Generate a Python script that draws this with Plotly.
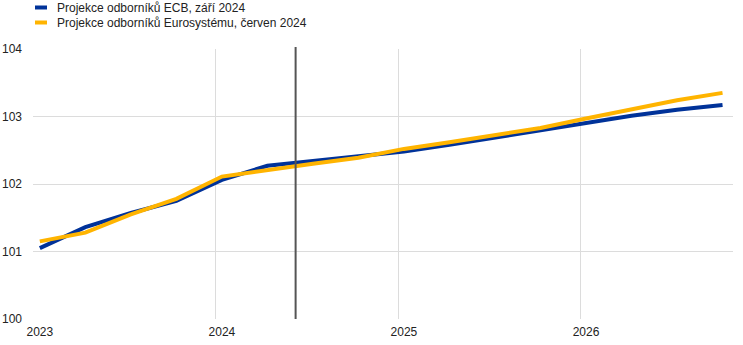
import plotly.graph_objects as go

# Quarterly index: 2023Q1 .. 2026Q4
quarters = ["2023Q1", "2023Q2", "2023Q3", "2023Q4",
            "2024Q1", "2024Q2", "2024Q3", "2024Q4",
            "2025Q1", "2025Q2", "2025Q3", "2025Q4",
            "2026Q1", "2026Q2", "2026Q3", "2026Q4"]
year_labels = ["2023", "2024", "2025", "2026"]

ecb_sep_2024 = [101.05, 101.36, 101.57, 101.75, 102.06, 102.27, 102.34, 102.41,
                102.48, 102.58, 102.69, 102.80, 102.90, 103.01, 103.10, 103.17]
eurosystem_jun_2024 = [101.15, 101.28, 101.55, 101.78, 102.11, 102.21, 102.30, 102.39,
                       102.52, 102.62, 102.73, 102.83, 102.97, 103.11, 103.24, 103.35]

series_names = ["Projekce odborníků ECB, září 2024",
                "Projekce odborníků Eurosystému, červen 2024"]
series_colors = ["#003299", "#FFB400"]

cutoff_position = 5.62  # vertical marker (quarter index)

x = list(range(len(quarters)))
year_tick_pos = [quarters.index(y + "Q1") for y in year_labels]
year_grid_pos = [p - 0.13 for p in year_tick_pos]

FONT = "Liberation Sans, Arial, sans-serif"

fig = go.Figure()
for name, vals, col in zip(series_names, [ecb_sep_2024, eurosystem_jun_2024], series_colors):
    fig.add_trace(go.Scatter(x=x, y=vals, mode="lines", name=name,
                             line=dict(color=col, width=4), showlegend=False))

# vertical cut-off line
fig.add_shape(type="line", xref="x", yref="paper", x0=cutoff_position, x1=cutoff_position,
              y0=-0.0, y1=1.007, line=dict(color="#555555", width=2), layer="above")

# custom legend
legend_y_px = [7.5, 22.5]
for name, col, ypx in zip(series_names, series_colors, legend_y_px):
    yp = 1 + (49 - ypx) / 270.0
    fig.add_shape(type="line", xref="paper", yref="paper",
                  x0=(35 - 33) / 700.0, x1=(47 - 33) / 700.0, y0=yp, y1=yp,
                  line=dict(color=col, width=4))
    fig.add_annotation(xref="paper", yref="paper", x=(55 - 33) / 700.0, y=yp,
                       text=name, showarrow=False, xanchor="left", yanchor="middle",
                       font=dict(family=FONT, size=12, color="#222222"))

fig.update_layout(
    width=743, height=345,
    margin=dict(l=33, r=10, t=49, b=26, autoexpand=False),
    paper_bgcolor="white", plot_bgcolor="white",
    font=dict(family=FONT, size=12, color="#222222"),
    showlegend=False,
)
fig.update_xaxes(
    range=[-0.15, 15.23], automargin=False,
    tickmode="array", tickvals=year_tick_pos, ticktext=year_labels,
    showgrid=False, zeroline=False, showline=False, ticks="", ticklabelstandoff=4,
    minor=dict(tickmode="array", tickvals=year_grid_pos, showgrid=True,
               gridcolor="#dcdcdc", gridwidth=1, ticks=""),
    tickfont=dict(size=12, color="#222222"),
)
fig.update_yaxes(
    range=[100, 104], automargin=False, tickmode="array", tickvals=[100, 101, 102, 103, 104],
    showgrid=True, gridcolor="#dcdcdc", gridwidth=1, zeroline=False,
    showline=False, ticks="", ticklabelstandoff=10,
    tickfont=dict(size=12, color="#222222"),
)

fig.write_html("out.html", config={"displayModeBar": False},
               post_script="document.body.style.margin='0';document.body.style.padding='0';")
